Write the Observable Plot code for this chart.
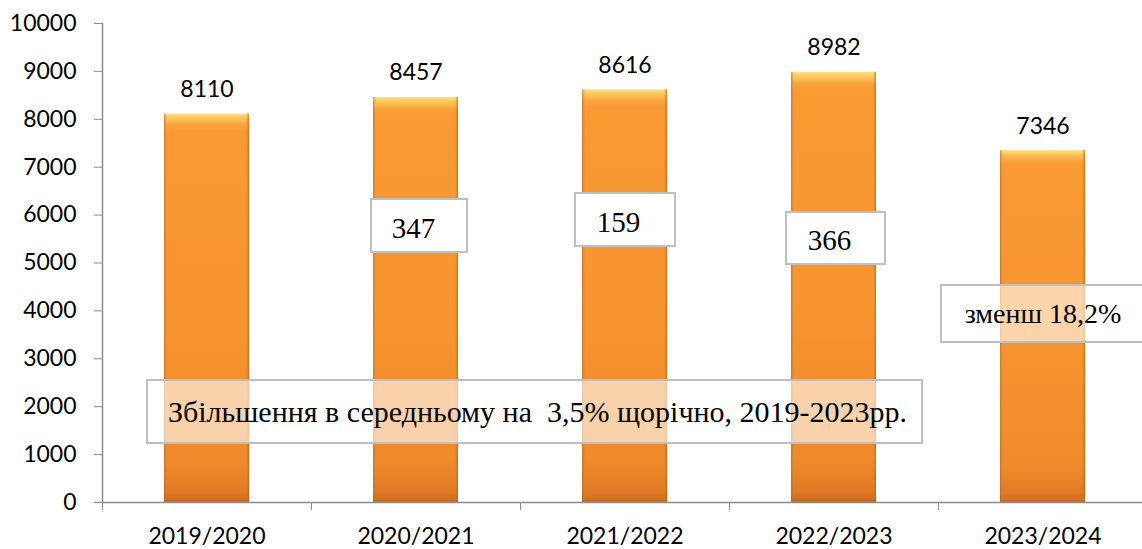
<!DOCTYPE html>
<html>
<head>
<meta charset="utf-8">
<script src="https://cdn.jsdelivr.net/npm/d3@7"></script>
<script src="https://cdn.jsdelivr.net/npm/@observablehq/plot@0.6"></script>
<style>
  html, body { margin: 0; padding: 0; background: #ffffff; }
  #chart { width: 1142px; height: 549px; overflow: hidden; }
</style>
</head>
<body>
<div id="chart"></div>
<script>
// ---- data ----
const categories = ["2019/2020", "2020/2021", "2021/2022", "2022/2023", "2023/2024"];
const values = [8110, 8457, 8616, 8982, 7346];
const yTicks = [0, 1000, 2000, 3000, 4000, 5000, 6000, 7000, 8000, 9000, 10000];

// annotation boxes (text, anchor category, text value-position, box top/bottom in value units)
const noteLabels = ["347", "159", "366", "зменш 18,2%", "Збільшення в середньому на\u00a0 3,5% щорічно, 2019-2023рр."];
const noteCategories = ["2020/2021", "2021/2022", "2022/2023", "2023/2024", "2019/2020"];
const noteY = [5720, 5835, 5459, 3925, 1879];
const boxTop = [6326, 6451, 6054, 4530, 2547];
const boxBottom = [5219, 5344, 4969, 3340, 1232];

// ---- layout/style (pixels) ----
const noteDx = [-2.5, -6.5, -4.5, 0, 330.5];
const boxInsetLeft = [-2, -7, -5, -59, -17];
const boxInsetRight = [-9, -8, -9, -65, -673];
const boxOpacity = [1, 1, 1, 0.6, 0.6];
const noteFontSize = [29, 29, 29, 28, 30];
const labelSize = 23;

const bars = categories.map((c, i) => ({category: c, value: values[i]}));
const notes = noteLabels.map((t, i) => ({
  label: t, category: noteCategories[i], y: noteY[i], top: boxTop[i], bottom: boxBottom[i]
}));

const axisColor = "#8c8c8c";

const marks = [
  Plot.barY(bars, {x: "category", y: "value", fill: "url(#barGrad)", ariaLabel: "value-bars"}),
  Plot.barY(bars, {x: "category", y: "value", fill: "url(#barEdge)", ariaLabel: "bar-edges"}),
  Plot.text(bars, {x: "category", y: "value", text: d => String(d.value), lineAnchor: "bottom", dy: -17,
    fill: "black", fontSize: labelSize})
];

notes.forEach((n, i) => {
  marks.push(Plot.barY([n], {
    x: "category", y1: "bottom", y2: "top",
    insetLeft: boxInsetLeft[i], insetRight: boxInsetRight[i],
    fill: "white", fillOpacity: boxOpacity[i],
    stroke: "#bfbfbf", strokeWidth: 2
  }));
  marks.push(Plot.text([n], {
    x: "category", y: "y", text: "label", dx: noteDx[i],
    fontFamily: "'Liberation Serif', 'Times New Roman', serif",
    fontSize: noteFontSize[i], fill: "black", lineAnchor: "middle", textAnchor: "middle"
  }));
});

marks.push(
  Plot.ruleY([0], {stroke: axisColor, strokeWidth: 1.5}),
  Plot.frame({anchor: "left", stroke: axisColor, strokeWidth: 1.5}),
  Plot.axisY(yTicks, {tickSize: 8, tickPadding: 18, tickFormat: d => String(d), stroke: axisColor, fill: "black", fontSize: labelSize}),
  Plot.axisX({tickSize: 8, tickFormat: () => "", dx: -104.5, stroke: axisColor}),
  Plot.axisX({tickSize: 0, tickPadding: 25, fill: "black", fontSize: labelSize})
);

const plot = Plot.plot({
  width: 1142,
  height: 549,
  marginLeft: 102,
  marginRight: -5,
  marginTop: 23,
  marginBottom: 47,
  style: {fontFamily: "Lato, 'Open Sans', sans-serif", fontSize: labelSize + "px", color: "black", background: "white"},
  x: {domain: categories, paddingInner: 0.593, paddingOuter: 0.2965, label: null},
  y: {domain: [0, 10000], label: null},
  marks
});

document.getElementById("chart").appendChild(plot);

// gradients and shadow for the bevelled bars
const svg = d3.select(plot.tagName.toLowerCase() === "svg" ? plot : plot.querySelector("svg"));
const defs = svg.insert("defs", ":first-child");
const g1 = defs.append("linearGradient").attr("id", "barGrad").attr("x1", 0).attr("y1", 0).attr("x2", 0).attr("y2", 1);
[[0, "#fde08a"], [0.012, "#fcc55a"], [0.03, "#fba23a"], [0.045, "#f99a33"], [0.55, "#f7952f"], [0.9, "#ee8a2b"], [0.975, "#e07a27"], [1, "#c86a20"]]
  .forEach(([o, c]) => g1.append("stop").attr("offset", o).attr("stop-color", c));
const g2 = defs.append("linearGradient").attr("id", "barEdge").attr("x1", 0).attr("y1", 0).attr("x2", 1).attr("y2", 0);
[[0, "#a8581a", 0.55], [0.04, "#f0902c", 0], [0.96, "#f0902c", 0], [1, "#9a5016", 0.6]]
  .forEach(([o, c, a]) => g2.append("stop").attr("offset", o).attr("stop-color", c).attr("stop-opacity", a));
const f = defs.append("filter").attr("id", "barShadow").attr("x", "-10%").attr("y", "-5%").attr("width", "130%").attr("height", "115%");
f.append("feDropShadow").attr("dx", 2).attr("dy", 1).attr("stdDeviation", 1.5).attr("flood-color", "#000").attr("flood-opacity", 0.3);
svg.selectAll("g[aria-label='value-bars']").attr("filter", "url(#barShadow)");
</script>
</body>
</html>
